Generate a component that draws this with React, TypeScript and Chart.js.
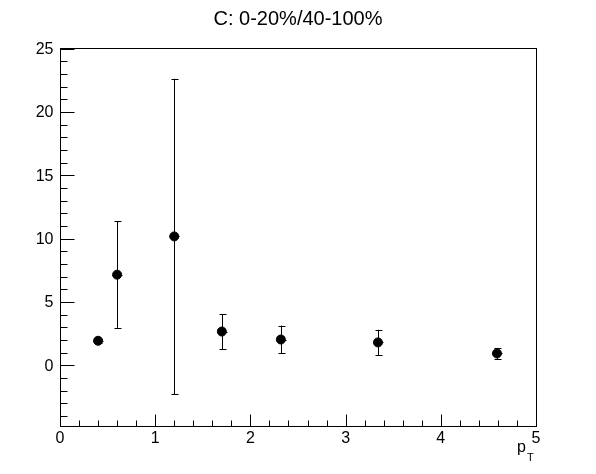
import React, { useEffect, useRef } from "react";
import { Chart, registerables } from "chart.js";

Chart.register(...registerables);

const TITLE = "C: 0-20%/40-100%";
const xValues = [0.4, 0.6, 1.2, 1.7, 2.32, 3.34, 4.59];
const yValues = [1.93, 7.15, 10.17, 2.66, 2.03, 1.8, 0.93];
const yErrors = [0.15, 4.2, 12.45, 1.38, 1.1, 1.0, 0.43];
const xTickLabels = [0, 1, 2, 3, 4, 5];
const yTickLabels = [0, 5, 10, 15, 20, 25];
const X_MIN = 0;
const X_MAX = 5;
const Y_MIN = -4.8;
const Y_MAX = 25.05;

const FONT = '"Liberation Sans", Arial, Helvetica, sans-serif';

const rootPlugin = {
  id: "rootStyle",
  beforeDatasetsDraw(chart: any) {
    const ctx = chart.ctx;
    const xs = chart.scales.x;
    const ys = chart.scales.y;
    ctx.save();
    ctx.strokeStyle = "#000";
    ctx.lineWidth = 1;
    for (let i = 0; i < xValues.length; i++) {
      const px = Math.round(xs.getPixelForValue(xValues[i])) + 0.5;
      const top = ys.getPixelForValue(yValues[i] + yErrors[i]);
      const bot = ys.getPixelForValue(yValues[i] - yErrors[i]);
      const py = ys.getPixelForValue(yValues[i]);
      ctx.beginPath();
      ctx.moveTo(px, top);
      ctx.lineTo(px, bot);
      ctx.moveTo(px - 3, Math.round(top) + 0.5);
      ctx.lineTo(px + 4, Math.round(top) + 0.5);
      ctx.moveTo(px - 3, Math.round(bot) + 0.5);
      ctx.lineTo(px + 4, Math.round(bot) + 0.5);
      ctx.moveTo(px - 5, Math.round(py) + 0.5);
      ctx.lineTo(px + 5, Math.round(py) + 0.5);
      ctx.stroke();
    }
    ctx.restore();
  },
  afterDraw(chart: any) {
    const ctx = chart.ctx;
    const xs = chart.scales.x;
    const ys = chart.scales.y;
    const { left, right, top, bottom } = chart.chartArea;
    ctx.save();
    ctx.strokeStyle = "#000";
    ctx.lineWidth = 1;
    const L = Math.round(left) + 0.5;
    const R = Math.round(right) + 0.5;
    const T = Math.round(top) + 0.5;
    const B = Math.round(bottom) + 0.5;
    ctx.strokeRect(L, T, R - L, B - T);
    ctx.beginPath();
    for (let v = X_MIN; v <= X_MAX + 1e-9; v += 0.2) {
      const major = Math.abs(v - Math.round(v)) < 1e-6;
      const px = Math.round(xs.getPixelForValue(v)) + 0.5;
      ctx.moveTo(px, B);
      ctx.lineTo(px, B - (major ? 12 : 6));
    }
    for (let v = -4; v <= 25 + 1e-9; v += 1) {
      const major = v % 5 === 0;
      const py = Math.round(ys.getPixelForValue(v)) + 0.5;
      ctx.moveTo(L, py);
      ctx.lineTo(L + (major ? 14 : 7), py);
    }
    ctx.stroke();

    ctx.fillStyle = "#000";
    ctx.font = `16px ${FONT}`;
    ctx.textAlign = "center";
    ctx.textBaseline = "alphabetic";
    for (const v of xTickLabels) {
      ctx.fillText(String(v), xs.getPixelForValue(v), B + 16);
    }
    ctx.textAlign = "right";
    ctx.textBaseline = "middle";
    for (const v of yTickLabels) {
      ctx.fillText(String(v), L - 7, ys.getPixelForValue(v) + 1);
    }
    ctx.textAlign = "left";
    ctx.textBaseline = "alphabetic";
    ctx.font = `16px ${FONT}`;
    ctx.fillText("p", 517, 452);
    ctx.font = `11px ${FONT}`;
    ctx.fillText("T", 527, 461);
    ctx.font = `20px ${FONT}`;
    ctx.textAlign = "center";
    ctx.fillText(TITLE, 298, 25);
    ctx.restore();
  },
};

export default function App() {
  const ref = useRef<HTMLCanvasElement>(null);
  useEffect(() => {
    document.body.style.margin = "0";
    const canvas = ref.current!;
    const chart = new Chart(canvas, {
      type: "scatter",
      data: {
        datasets: [
          {
            data: xValues.map((x, i) => ({ x, y: yValues[i] })),
            backgroundColor: "#000",
            borderColor: "#000",
            pointRadius: 4.5,
            pointHoverRadius: 4.5,
            showLine: false,
          },
        ],
      },
      options: {
        responsive: false,
        animation: false,
        maintainAspectRatio: false,
        layout: { padding: { left: 60, right: 60, top: 48, bottom: 48 } },
        plugins: {
          legend: { display: false },
          tooltip: { enabled: false },
          title: { display: false },
        },
        scales: {
          x: { type: "linear", min: X_MIN, max: X_MAX, display: false },
          y: { type: "linear", min: Y_MIN, max: Y_MAX, display: false },
        },
      },
      plugins: [rootPlugin],
    });
    return () => chart.destroy();
  }, []);
  return <canvas ref={ref} width={596} height={474} style={{ display: "block" }} />;
}
